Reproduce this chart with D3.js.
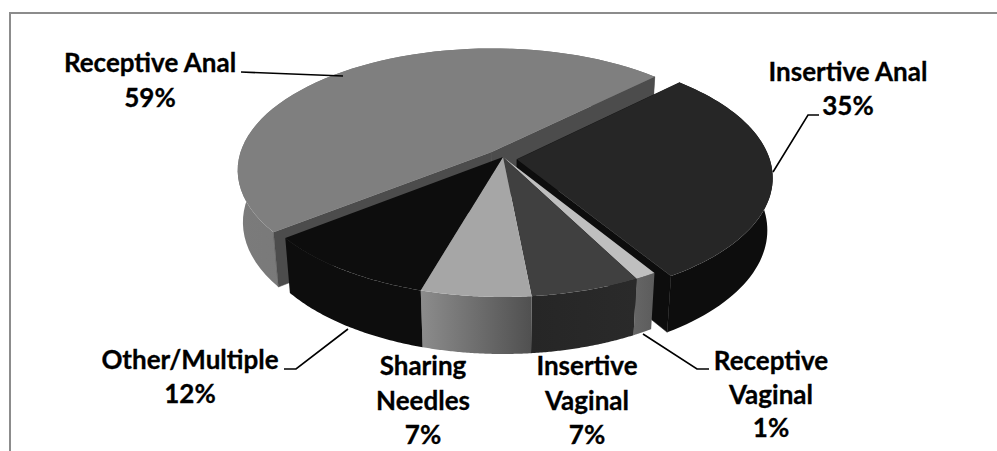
<!DOCTYPE html>
<html>
<head>
<meta charset="utf-8">
<style>
  html, body { margin: 0; padding: 0; background: #fff; }
  svg { display: block; }
  .label { font-family: Lato, "Open Sans", sans-serif; font-weight: 700; font-size: 26px; fill: #000; stroke: #000; stroke-width: 0.3; text-anchor: middle; }
</style>
<script src="https://cdn.jsdelivr.net/npm/d3@7"></script>
</head>
<body>
<div id="chart"></div>
<script>
// DATA
// ------------------------------------------------------------------
var categories = ["Receptive Anal", "Insertive Anal", "Receptive Vaginal",
                  "Insertive Vaginal", "Sharing Needles", "Other/Multiple"];
// what the labels say
var percents = [59, 35, 1, 7, 7, 12];
// what the slices measure, share of the full circle (labels add up to 121)
var shares = [48.2, 28.5, 1.2, 6.1, 6.1, 9.9];

// CANVAS
// ------------------------------------------------------------------
var width = 997,
    height = 451;

var svg = d3.select("#chart")
    .append("svg")
    .attr("width", width)
    .attr("height", height);

// frame of the pasted chart, only top and left show
svg.append("path")
    .attr("d", "M10,451V13H997")
    .attr("fill", "none")
    .attr("stroke", "#8c8c8c")
    .attr("stroke-width", 2);

// PROJECTION
// ------------------------------------------------------------------
var cx = 503, cy = 157,        // where the pie centre lands
    radius = 252,
    thick = 60,
    sinT = 0.476, cosT = 0.88, // tilt
    persp = 0.000567,
    perspZ = 0.00033,
    startDeg = 232;

function project(x, y, z) {
  var w = 1 + persp * y - perspZ * z;
  return [cx + x / w, cy - (sinT * y + cosT * z) / w];
}

// SLICES
// ------------------------------------------------------------------
var offsetX = [-12, 14, 0, 0, 0, 0];
var offsetY = [10, -5, 0, 0, 0, 0];
var topFill = ["#7f7f7f", "#262626", "#bfbfbf", "#404040", "#a6a6a6", "#0d0d0d"];
var cutFill = ["#4c4c4c", "#0d0d0d", "#5f5f5f", "#262626", "#666666", "#0d0d0d"];
var rimStops = [
  ["#7b7b7b", "#6c6c6c"],
  ["#0d0d0d", "#0d0d0d"],
  ["#666666", "#5c5c5c"],
  ["#262626", "#2a2a2a"],
  ["#8c8c8c", "#505050"],
  ["#0d0d0d", "#0d0d0d"]
];

var pie = d3.pie()
    .sort(null)
    .startAngle(startDeg * Math.PI / 180)
    .endAngle((startDeg + 360) * Math.PI / 180);

var arcs = pie(shares);

var line = d3.line();
var defs = svg.append("defs");

// point on the pie at angle a (clockwise from the back), r from the slice tip
function point(i, a, r, z) {
  return project(offsetX[i] + r * Math.sin(a), offsetY[i] + r * Math.cos(a), z);
}

function rimPoints(i, z) {
  var n = 60, pts = [];
  for (var k = 0; k <= n; k++) {
    var a = arcs[i].startAngle + (arcs[i].endAngle - arcs[i].startAngle) * k / n;
    pts.push(point(i, a, radius, z));
  }
  return pts;
}

function drawSlice(i) {
  var g = svg.append("g").attr("class", "slice");
  var top = rimPoints(i, 0),
      bot = rimPoints(i, -thick);

  var xs = d3.extent(top.concat(bot), function(d) { return d[0]; });
  var grad = defs.append("linearGradient")
      .attr("id", "rim" + i)
      .attr("gradientUnits", "userSpaceOnUse")
      .attr("x1", xs[0]).attr("x2", xs[1])
      .attr("y1", 0).attr("y2", 0);
  grad.append("stop").attr("offset", "0").attr("stop-color", rimStops[i][0]);
  grad.append("stop").attr("offset", "1").attr("stop-color", rimStops[i][1]);

  g.append("path")
    .attr("d", line(top.concat(bot.slice().reverse())) + "Z")
    .attr("fill", "url(#rim" + i + ")");

  // cut faces only show on the pulled out slices
  if (offsetX[i] != 0) {
    [arcs[i].startAngle, arcs[i].endAngle].forEach(function(a) {
      g.append("path")
        .attr("d", line([point(i, a, 0, 0), point(i, a, radius, 0),
                         point(i, a, radius, -thick), point(i, a, 0, -thick)]) + "Z")
        .attr("fill", cutFill[i])
        .attr("stroke", cutFill[i])
        .attr("stroke-width", 0.5);
    });
  }

  g.append("path")
    .attr("d", line([point(i, 0, 0, 0)].concat(top)) + "Z")
    .attr("fill", topFill[i]);
}

// back to front
[0, 1, 2, 3, 4, 5].forEach(drawSlice);

// LABELS
// ------------------------------------------------------------------
var labelLines = [
  ["Receptive Anal"],
  ["Insertive Anal"],
  ["Receptive", "Vaginal"],
  ["Insertive", "Vaginal"],
  ["Sharing", "Needles"],
  ["Other/Multiple"]
];
var labelX = [150, 848, 771, 587, 423, 190];
var labelY = [72, 81, 370, 375, 375, 369];
var lineStep = [35, 34, 33.5, 34.5, 34.5, 34];

percents.forEach(function(p, i) {
  var t = svg.append("text").attr("class", "label");
  labelLines[i].concat([p + "%"]).forEach(function(s, k) {
    t.append("tspan")
      .attr("x", labelX[i])
      .attr("y", labelY[i] + k * lineStep[i])
      .text(s);
  });
});

// leader lines
var leaderRuns = [
  [[241, 72], [343, 76]],
  [[819, 115], [808, 115], [773, 172]],
  [[709, 369], [697, 369], [643, 334]],
  [[284, 369], [296, 369], [348, 329]]
];
leaderRuns.forEach(function(run) {
  svg.append("path")
    .attr("d", line(run))
    .attr("fill", "none")
    .attr("stroke", "#000")
    .attr("stroke-width", 1.6);
});
</script>
</body>
</html>
